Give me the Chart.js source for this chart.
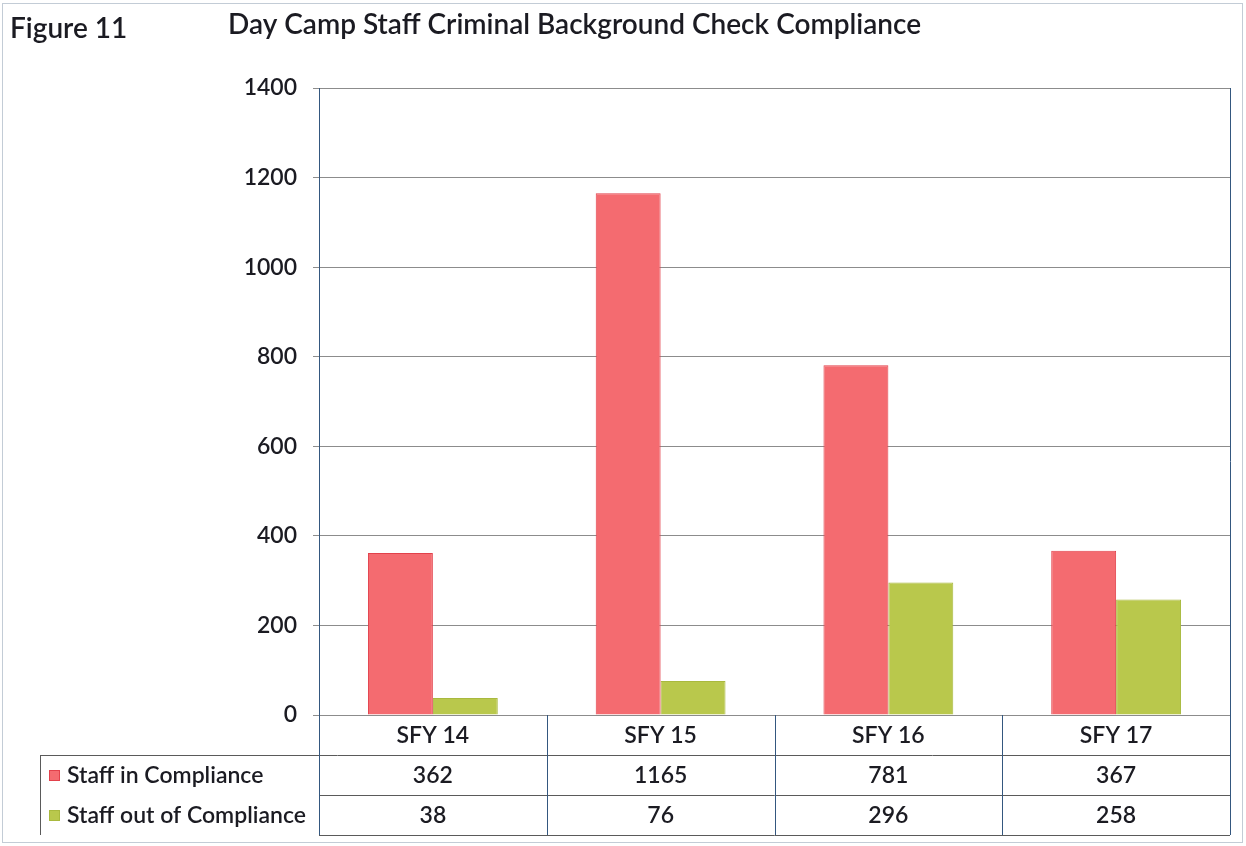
<!DOCTYPE html>
<html>
<head>
<meta charset="utf-8">
<script src="https://cdn.jsdelivr.net/npm/chart.js@4/dist/chart.umd.min.js"></script>
<style>
  body { margin: 0; background: #fff; }
  #wrap { position: relative; width: 1246px; height: 846px; }
</style>
</head>
<body>
<div id="wrap"><canvas id="myChart" width="1246" height="846"></canvas></div>
<script>
// data
let categories = ['SFY 14', 'SFY 15', 'SFY 16', 'SFY 17'];
let inCompliance = [362, 1165, 781, 367];
let outOfCompliance = [38, 76, 296, 258];
let seriesNames = ['Staff in Compliance', 'Staff out of Compliance'];
let figureLabel = 'Figure 11';
let chartTitle = 'Day Camp Staff Criminal Background Check Compliance';

let fontFamily = 'Lato, "Open Sans", sans-serif';
let textColor = '#1b1b22';
let redFill = '#f46b70', redLine = '#e2414b';
let greenFill = '#b9c84c', greenLine = '#a9b93e';

// draws the titles, frame and the data table under the plot
const tablePlugin = {
  id: 'dataTable',
  afterDraw(chart) {
    const ctx = chart.ctx;
    const area = chart.chartArea;
    const xs = chart.scales.x;
    const colW = (area.right - area.left) / categories.length;
    const rowH = 40;
    const top = area.bottom;
    const legendLeft = 40;
    const rows = [inCompliance, outOfCompliance];
    const fills = [redFill, greenFill];
    const lines = [redLine, greenLine];

    ctx.save();
    // outer frame
    ctx.strokeStyle = '#c3ccd6';
    ctx.lineWidth = 1;
    ctx.strokeRect(2.5, 3.5, 1240, 839);

    // titles
    ctx.fillStyle = textColor;
    ctx.font = '600 28px ' + fontFamily;
    ctx.textBaseline = 'middle';
    ctx.textAlign = 'left';
    ctx.fillText(figureLabel, 10, 29);
    ctx.fillText(chartTitle, 228, 25);

    // right border of the plot
    ctx.strokeStyle = '#34577f';
    ctx.beginPath();
    ctx.moveTo(area.right + 0.5, area.top);
    ctx.lineTo(area.right + 0.5, area.bottom + rowH * 3);
    ctx.stroke();

    // horizontal table lines
    ctx.strokeStyle = '#5a5a5a';
    for (let r = 1; r <= 3; r++) {
      const y = Math.round(top + rowH * r) + 0.5;
      ctx.beginPath();
      ctx.moveTo(r === 1 ? legendLeft : area.left, y);
      ctx.lineTo(area.right, y);
      ctx.stroke();
    }
    // legend box left edge
    ctx.beginPath();
    ctx.moveTo(legendLeft + 0.5, top + rowH);
    ctx.lineTo(legendLeft + 0.5, top + rowH * 3);
    ctx.stroke();

    // column separators
    ctx.strokeStyle = '#34577f';
    for (let i = 0; i <= categories.length; i++) {
      const x = Math.round(area.left + colW * i) + 0.5;
      ctx.beginPath();
      ctx.moveTo(x, i === 0 ? area.top : top);
      ctx.lineTo(x, top + rowH * 3);
      ctx.stroke();
    }

    // header and values
    ctx.fillStyle = textColor;
    ctx.font = '600 23px ' + fontFamily;
    ctx.textAlign = 'center';
    ctx.textBaseline = 'middle';
    for (let i = 0; i < categories.length; i++) {
      const cx = xs.getPixelForValue(i);
      ctx.fillText(categories[i], cx, top + rowH / 2 + 1);
      for (let r = 0; r < rows.length; r++) {
        ctx.fillText(String(rows[r][i]), cx, top + rowH * (r + 1) + rowH / 2 + 1);
      }
    }

    // legend rows
    ctx.textAlign = 'left';
    for (let r = 0; r < seriesNames.length; r++) {
      const cy = top + rowH * (r + 1) + rowH / 2;
      ctx.fillStyle = fills[r];
      ctx.fillRect(49, cy - 5, 11, 11);
      ctx.strokeStyle = lines[r];
      ctx.strokeRect(49.5, cy - 4.5, 10, 10);
      ctx.fillStyle = textColor;
      ctx.fillText(seriesNames[r], 67, cy + 1);
    }
    ctx.restore();
  }
};

function runGraph() {
  let ctx = document.getElementById('myChart').getContext('2d');
  return new Chart(ctx, {
    type: 'bar',
    data: {
      labels: categories,
      datasets: [{
        label: seriesNames[0],
        data: inCompliance,
        backgroundColor: redFill,
        borderColor: redLine,
        borderWidth: 1
      }, {
        label: seriesNames[1],
        data: outOfCompliance,
        backgroundColor: greenFill,
        borderColor: greenLine,
        borderWidth: 1
      }]
    },
    options: {
      responsive: false,
      animation: false,
      layout: { padding: { top: 88, right: 16, bottom: 131, left: 0 } },
      datasets: { bar: { categoryPercentage: 0.57, barPercentage: 1.0 } },
      plugins: {
        legend: { display: false },
        title: { display: false },
        tooltip: { enabled: false }
      },
      scales: {
        x: { display: false },
        y: {
          min: 0,
          max: 1400,
          afterFit: function (scale) { scale.width = 319; },
          ticks: {
            stepSize: 200,
            color: textColor,
            padding: 16,
            font: { family: fontFamily, size: 23, weight: '600' },
            callback: function (v) { return String(v); }
          },
          grid: {
            color: '#8c8c8c',
            tickColor: '#8c8c8c',
            tickLength: 6
          },
          border: { color: '#34577f', width: 1 }
        }
      }
    },
    plugins: [tablePlugin]
  });
}

let myChart = runGraph();
</script>
</body>
</html>
